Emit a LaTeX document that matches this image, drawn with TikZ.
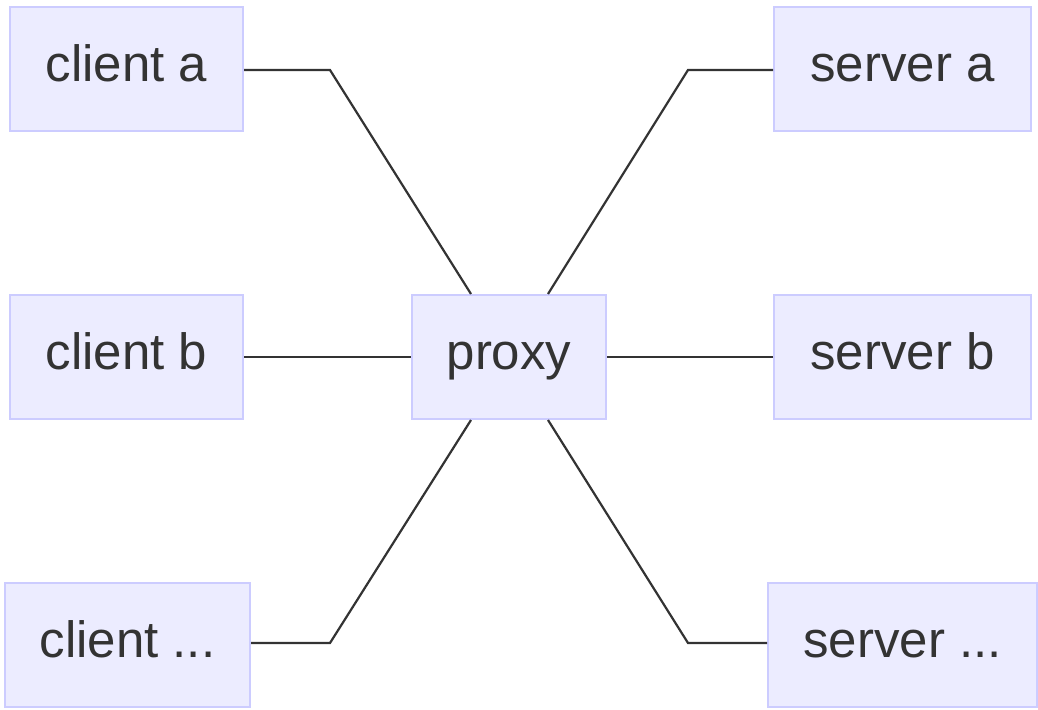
\documentclass[tikz,border=0pt]{standalone}
\usepackage{fontspec}
\setmainfont{Liberation Sans}
\usetikzlibrary{calc}
\definecolor{boxfill}{HTML}{ECECFF}
\definecolor{boxline}{HTML}{CCCCFF}
\definecolor{linecol}{HTML}{333333}
\definecolor{txt}{HTML}{333333}
\begin{document}
\begin{tikzpicture}[x=1pt,y=-1pt,
  box/.style={draw=boxline,fill=boxfill,line width=2pt,inner sep=0pt,
    minimum height=124pt,text height=36pt,text depth=11pt,text=txt,
    font=\fontsize{51}{60}\selectfont},
  conn/.style={draw=linecol,line width=2.2pt,line join=miter}]
\useasboundingbox (0,0) rectangle (1038,709);
\node[box,minimum width=233pt] (ca) at (126.5,69) {client a};
\node[box,minimum width=233pt] (cb) at (126.5,357) {client b};
\node[box,minimum width=245pt] (cc) at (127.5,645) {client ...};
\node[box,minimum width=194pt] (p) at (509,357) {proxy};
\node[box,minimum width=257pt] (sa) at (902.5,69) {server a};
\node[box,minimum width=257pt] (sb) at (902.5,357) {server b};
\node[box,minimum width=269pt] (sc) at (902.5,645) {server ...};
\coordinate (ptl) at ($(p.north)+(-38,0)$);
\coordinate (ptr) at ($(p.north)+(39,0)$);
\coordinate (pbl) at ($(p.south)+(-38,0)$);
\coordinate (pbr) at ($(p.south)+(39,0)$);
\coordinate (k1) at (330,70);
\coordinate (k2) at (330,643);
\coordinate (k3) at (688,70);
\coordinate (k4) at (688,643);
\draw[conn] (ca.east |- k1) -- (k1) -- (ptl);
\draw[conn] (cb.east) -- (p.west);
\draw[conn] (cc.east |- k2) -- (k2) -- (pbl);
\draw[conn] (sa.west |- k3) -- (k3) -- (ptr);
\draw[conn] (sb.west) -- (p.east);
\draw[conn] (sc.west |- k4) -- (k4) -- (pbr);
\end{tikzpicture}
\end{document}
